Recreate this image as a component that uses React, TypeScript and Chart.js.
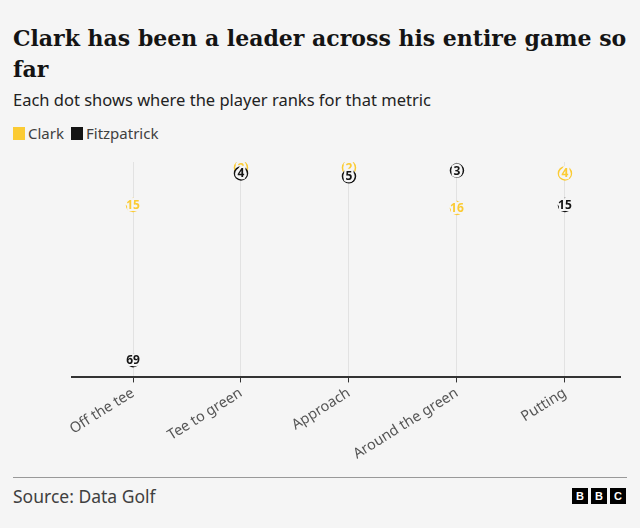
import React, { useEffect, useRef } from "react";
import { Chart, registerables } from "chart.js";

Chart.register(...registerables);

const categories = ["Off the tee", "Tee to green", "Approach", "Around the green", "Putting"];
const clarkRanks = [15, 2, 2, 16, 4];
const fitzRanks = [69, 4, 5, 3, 15];
const seriesNames = ["Clark", "Fitzpatrick"];
const seriesColors = ["#fbcb34", "#141414"];
const BG = "#f5f5f5";

const labelPlugin = {
  id: "rankLabels",
  afterDatasetDraw(chart: any, args: any) {
    const ctx = chart.ctx;
    const ds = chart.data.datasets[args.index];
    const meta = args.meta;
    ctx.save();
    ctx.font = "bold 12px 'Noto Sans', sans-serif";
    ctx.textAlign = "center";
    ctx.textBaseline = "middle";
    ctx.lineJoin = "round";
    meta.data.forEach((pt: any, i: number) => {
      const txt = String(ds.data[i].y);
      ctx.lineWidth = 4.5;
      ctx.strokeStyle = BG;
      ctx.strokeText(txt, pt.x, pt.y + 0.5);
      ctx.fillStyle = ds.borderColor;
      ctx.fillText(txt, pt.x, pt.y + 0.5);
    });
    ctx.restore();
  },
};

export default function App() {
  const ref = useRef<HTMLCanvasElement>(null);
  useEffect(() => {
    const mk = (ranks: number[]) => ranks.map((r, i) => ({ x: i, y: r }));
    const chart = new Chart(ref.current!, {
      type: "scatter",
      data: {
        datasets: [
          {
            label: seriesNames[0],
            data: mk(clarkRanks),
            borderColor: seriesColors[0],
            backgroundColor: BG,
            pointRadius: 6.5,
            pointBorderWidth: 1.5,
            order: 2,
          },
          {
            label: seriesNames[1],
            data: mk(fitzRanks),
            borderColor: seriesColors[1],
            backgroundColor: BG,
            pointRadius: 6.5,
            pointBorderWidth: 1.5,
            order: 1,
          },
        ],
      },
      options: {
        animation: false,
        responsive: false,
        maintainAspectRatio: false,
        layout: { padding: { left: 72, right: 20, top: 22, bottom: 0 } },
        plugins: { legend: { display: false }, tooltip: { enabled: false } },
        scales: {
          x: {
            type: "linear",
            min: -0.565,
            max: 4.51,
            grid: { color: "#e2e2e2", lineWidth: 1, tickColor: "#333", tickLength: 5 },
            border: { color: "#333", width: 2 },
            ticks: {
              stepSize: 1,
              includeBounds: false,
              autoSkip: false,
              maxRotation: 32,
              minRotation: 32,
              padding: 2,
              color: "#555",
              font: { family: "'Noto Sans', sans-serif", size: 14.5 },
              callback: (v: any) => categories[v] ?? "",
            },
          },
          y: {
            reverse: true,
            min: 0,
            max: 75,
            display: false,
          },
        },
      },
      plugins: [labelPlugin],
    });
    return () => chart.destroy();
  }, []);

  const sans = "'Noto Sans', sans-serif";
  return (
    <div style={{ position: "fixed", left: 0, top: 0, width: 640, height: 528, background: BG, overflow: "hidden" }}>
      <div style={{ position: "absolute", left: 13, top: 23, width: 627, fontFamily: "'DejaVu Serif', serif", fontWeight: 700, fontSize: 22, lineHeight: "31px", color: "#141414", whiteSpace: "nowrap" }}>
        Clark has been a leader across his entire game so<br />far
      </div>
      <div style={{ position: "absolute", left: 13, top: 88, fontFamily: sans, fontSize: 16.5, color: "#222", whiteSpace: "nowrap" }}>
        Each dot shows where the player ranks for that metric
      </div>
      <div style={{ position: "absolute", left: 13, top: 123, fontFamily: sans, fontSize: 15, color: "#404040", display: "flex", alignItems: "center", whiteSpace: "nowrap" }}>
        <span style={{ display: "inline-block", width: 12, height: 13, background: seriesColors[0], marginRight: 3 }} />
        <span style={{ marginRight: 7 }}>{seriesNames[0]}</span>
        <span style={{ display: "inline-block", width: 12, height: 13, background: seriesColors[1], marginRight: 3 }} />
        <span>{seriesNames[1]}</span>
      </div>
      <canvas ref={ref} width={640} height={325} style={{ position: "absolute", left: 0, top: 140, width: 640, height: 325 }} />
      <div style={{ position: "absolute", left: 13, top: 477, width: 614, height: 1, background: "#999" }} />
      <div style={{ position: "absolute", left: 13, top: 484, fontFamily: sans, fontSize: 17.5, color: "#404040", whiteSpace: "nowrap" }}>
        Source: Data Golf
      </div>
      <div style={{ position: "absolute", left: 572, top: 488, display: "flex", gap: 3 }}>
        {["B", "B", "C"].map((l, i) => (
          <span key={i} style={{ width: 16, height: 16, background: "#000", color: "#fff", fontFamily: "'Liberation Sans', sans-serif", fontWeight: 700, fontSize: 11, lineHeight: "16px", textAlign: "center", display: "inline-block" }}>
            {l}
          </span>
        ))}
      </div>
    </div>
  );
}
